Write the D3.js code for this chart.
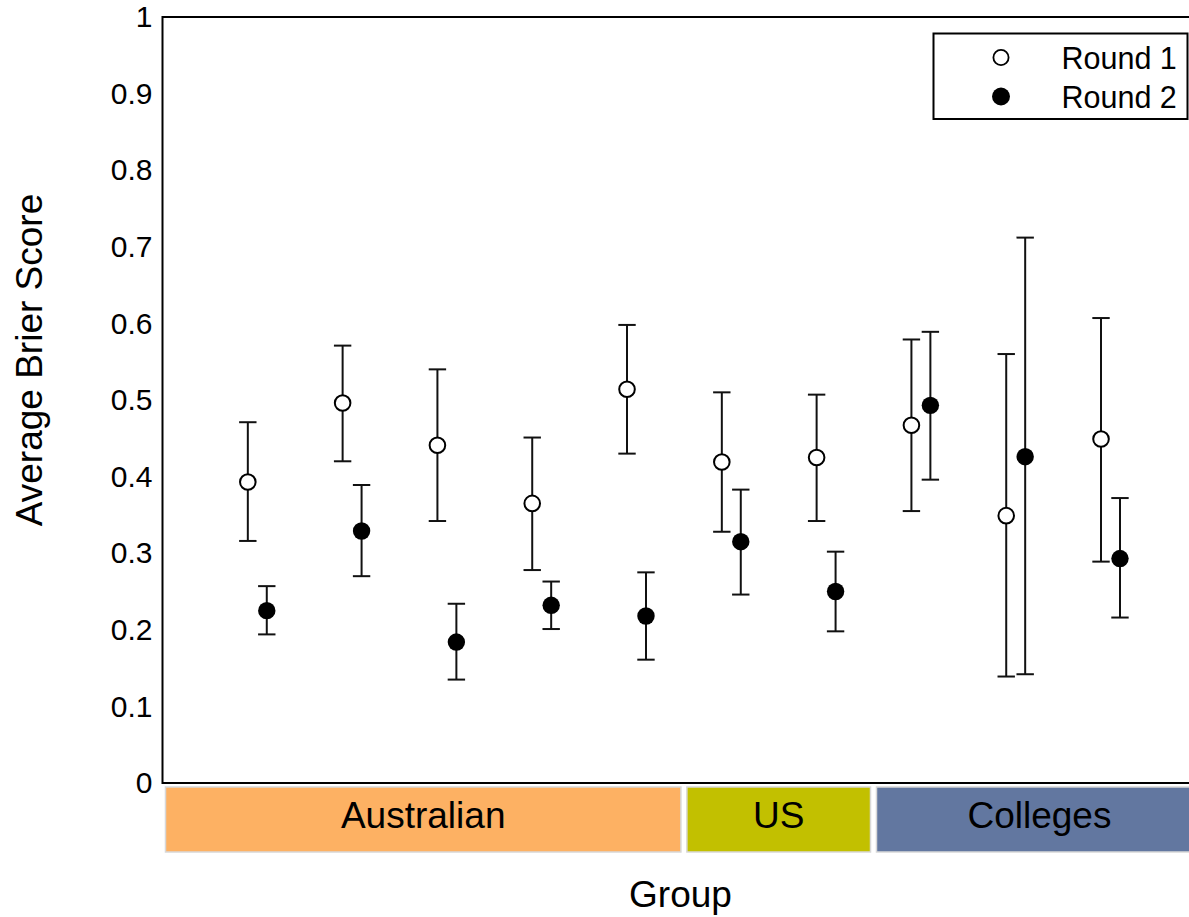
<!DOCTYPE html>
<html>
<head>
<meta charset="utf-8">
<script src="https://cdn.jsdelivr.net/npm/d3@7"></script>
<style>
  html, body { margin: 0; padding: 0; background: #fff; overflow: hidden; }
  svg { display: block; }
  text { font-family: "Liberation Sans", Arial, Helvetica, sans-serif; fill: #000; }
</style>
</head>
<body>
<script>
// ---- data ----
const cohorts = [1, 2, 3, 4, 5, 6, 7, 8, 9, 10];
const round1Mean  = [0.393, 0.496, 0.441, 0.365, 0.514, 0.419, 0.425, 0.467, 0.349, 0.449];
const round1Lower = [0.316, 0.420, 0.342, 0.278, 0.430, 0.328, 0.342, 0.355, 0.139, 0.289];
const round1Upper = [0.471, 0.571, 0.540, 0.451, 0.598, 0.510, 0.507, 0.579, 0.560, 0.607];
const round2Mean  = [0.225, 0.329, 0.184, 0.232, 0.218, 0.315, 0.250, 0.493, 0.426, 0.293];
const round2Lower = [0.194, 0.270, 0.135, 0.201, 0.161, 0.246, 0.198, 0.396, 0.142, 0.216];
const round2Upper = [0.257, 0.389, 0.234, 0.263, 0.275, 0.383, 0.302, 0.589, 0.712, 0.372];
const groupNames  = ["Australian", "US", "Colleges"];
const groupStart  = [0, 5.5, 7.5];
const groupEnd    = [5.5, 7.5, 11];
const groupColors = ["#FDB163", "#C2C000", "#6277A0"];
const yTicks = [0, 0.1, 0.2, 0.3, 0.4, 0.5, 0.6, 0.7, 0.8, 0.9, 1];
const seriesNames = ["Round 1", "Round 2"];
const xDomain = [0, 11];

// ---- layout ----
const W = 1189, H = 917;
const plotLeft = 162.5, plotRight = 1205.3, plotTop = 17, plotBottom = 783;
const offset = 0.1;

const svg = d3.select("body").append("svg").attr("width", W).attr("height", H);

const x = d3.scaleLinear().domain(xDomain).range([plotLeft, plotRight]);
const y = d3.scaleLinear().domain([0, 1]).range([plotBottom, plotTop]);

// group strip
const strip = svg.append("g");
groupNames.forEach((g, i) => {
  const x0 = x(groupStart[i]) + 3, x1 = x(groupEnd[i]) - 3;
  strip.append("rect")
    .attr("x", x0).attr("y", plotBottom + 4)
    .attr("width", x1 - x0).attr("height", 65)
    .attr("fill", groupColors[i])
    .attr("stroke", "#d8d8d8").attr("stroke-width", 1.5);
  const cx = (x0 + x1) / 2;
  strip.append("text")
    .attr("x", Math.min(cx, (x0 + Math.min(x1, W)) / 2 + 20))
    .attr("y", plotBottom + 4 + 32.5 - 4)
    .attr("text-anchor", "middle")
    .attr("dominant-baseline", "central")
    .attr("font-size", 37)
    .text(g);
});

// frame
svg.append("rect")
  .attr("x", plotLeft).attr("y", plotTop)
  .attr("width", plotRight - plotLeft).attr("height", plotBottom - plotTop)
  .attr("fill", "none").attr("stroke", "#000").attr("stroke-width", 2);

// y axis
const yAxis = d3.axisLeft(y).tickValues(yTicks).tickSize(0).tickPadding(10)
  .tickFormat(d => String(+d.toFixed(1)));
const yg = svg.append("g").attr("transform", `translate(${plotLeft},0)`).call(yAxis);
yg.select(".domain").remove();
yg.selectAll("text")
  .attr("font-size", 30)
  .attr("font-family", "Liberation Sans, Arial, sans-serif")
  .attr("fill", "#000");

// axis titles
svg.append("text")
  .attr("transform", `translate(42,360) rotate(-90)`)
  .attr("text-anchor", "middle")
  .attr("font-size", 37)
  .text("Average Brier Score");
svg.append("text")
  .attr("x", 680.5).attr("y", 906.5)
  .attr("text-anchor", "middle")
  .attr("font-size", 37)
  .text("Group");

// error bars + points
const series = [
  { mean: round1Mean, lo: round1Lower, hi: round1Upper, dx: -offset, filled: false },
  { mean: round2Mean, lo: round2Lower, hi: round2Upper, dx: offset, filled: true }
];
const capHalf = 8.7;
const marks = svg.append("g");
series.forEach(s => {
  cohorts.forEach((c, i) => {
    const cx = x(c + s.dx);
    const g = marks.append("g");
    g.append("line").attr("x1", cx).attr("x2", cx)
      .attr("y1", y(s.lo[i])).attr("y2", y(s.hi[i]))
      .attr("stroke", "#111").attr("stroke-width", 2);
    [s.lo[i], s.hi[i]].forEach(v => {
      g.append("line").attr("x1", cx - capHalf).attr("x2", cx + capHalf)
        .attr("y1", y(v)).attr("y2", y(v))
        .attr("stroke", "#111").attr("stroke-width", 2);
    });
    g.append("circle").attr("cx", cx).attr("cy", y(s.mean[i]))
      .attr("r", s.filled ? 8.7 : 7.8)
      .attr("fill", s.filled ? "#000" : "#fff")
      .attr("stroke", "#000").attr("stroke-width", s.filled ? 0 : 2);
  });
});

// legend
const lg = svg.append("g");
lg.append("rect").attr("x", 933.5).attr("y", 33.5).attr("width", 254).attr("height", 85.5)
  .attr("fill", "#fff").attr("stroke", "#000").attr("stroke-width", 2);
seriesNames.forEach((n, i) => {
  const ly = 57.5 + i * 39;
  lg.append("circle").attr("cx", 1001).attr("cy", ly)
    .attr("r", i === 0 ? 7.6 : 9)
    .attr("fill", i === 0 ? "#fff" : "#000")
    .attr("stroke", "#000").attr("stroke-width", i === 0 ? 1.8 : 0);
  lg.append("text").attr("x", 1061.5).attr("y", ly + 11)
    .attr("font-size", 30.5).text(n);
});
</script>
</body>
</html>
